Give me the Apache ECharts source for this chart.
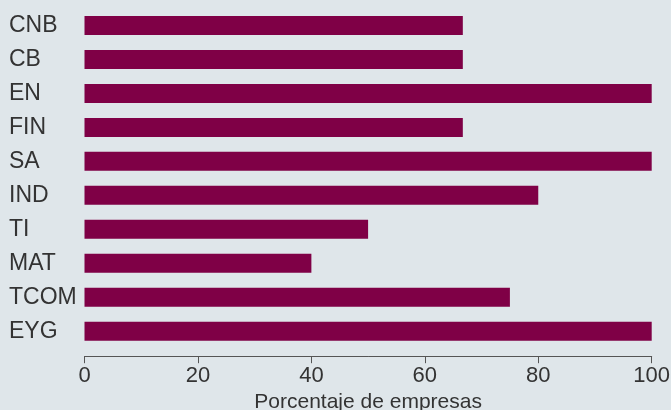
<!DOCTYPE html>
<html>
<head>
<meta charset="utf-8">
<script src="https://cdn.jsdelivr.net/npm/echarts@6/dist/echarts.min.js"></script>
<style>
html,body{margin:0;padding:0;background:#dfe6ea;}
#chart{width:671px;height:410px;}
</style>
</head>
<body>
<div id="chart"></div>
<script>
var categories = ["CNB", "CB", "EN", "FIN", "SA", "IND", "TI", "MAT", "TCOM", "EYG"];
var values = [66.7, 66.7, 100, 66.7, 100, 80, 50, 40, 75, 100];
var xTicks = [0, 20, 40, 60, 80, 100];
var xName = "Porcentaje de empresas";

var chart = echarts.init(document.getElementById('chart'), null, {renderer: 'canvas'});
var font = "'Liberation Sans', Arial, sans-serif";
chart.setOption({
  backgroundColor: '#dfe6ea',
  animation: false,
  grid: {left: 84.5, right: 19.3, top: 8.5, bottom: 61.8, containLabel: false, outerBoundsMode: 'none'},
  xAxis: {
    type: 'value',
    min: xTicks[0],
    max: xTicks[xTicks.length - 1],
    interval: xTicks[1] - xTicks[0],
    offset: 8,
    name: xName,
    nameLocation: 'middle',
    nameGap: 35,
    nameTextStyle: {fontFamily: font, fontSize: 21, color: '#333'},
    axisLine: {show: true, lineStyle: {color: '#555', width: 1}},
    axisTick: {show: true, length: 7, lineStyle: {color: '#555'}},
    axisLabel: {fontFamily: font, fontSize: 22, color: '#333', margin: 9},
    splitLine: {show: false}
  },
  yAxis: {
    type: 'category',
    data: categories,
    inverse: true,
    axisLine: {show: false},
    axisTick: {show: false},
    axisLabel: {fontFamily: font, fontSize: 23, color: '#333', align: 'left', margin: 75.5}
  },
  series: [{
    type: 'bar',
    data: values,
    barWidth: 19,
    itemStyle: {color: '#7f0046'}
  }]
});
</script>
</body>
</html>
